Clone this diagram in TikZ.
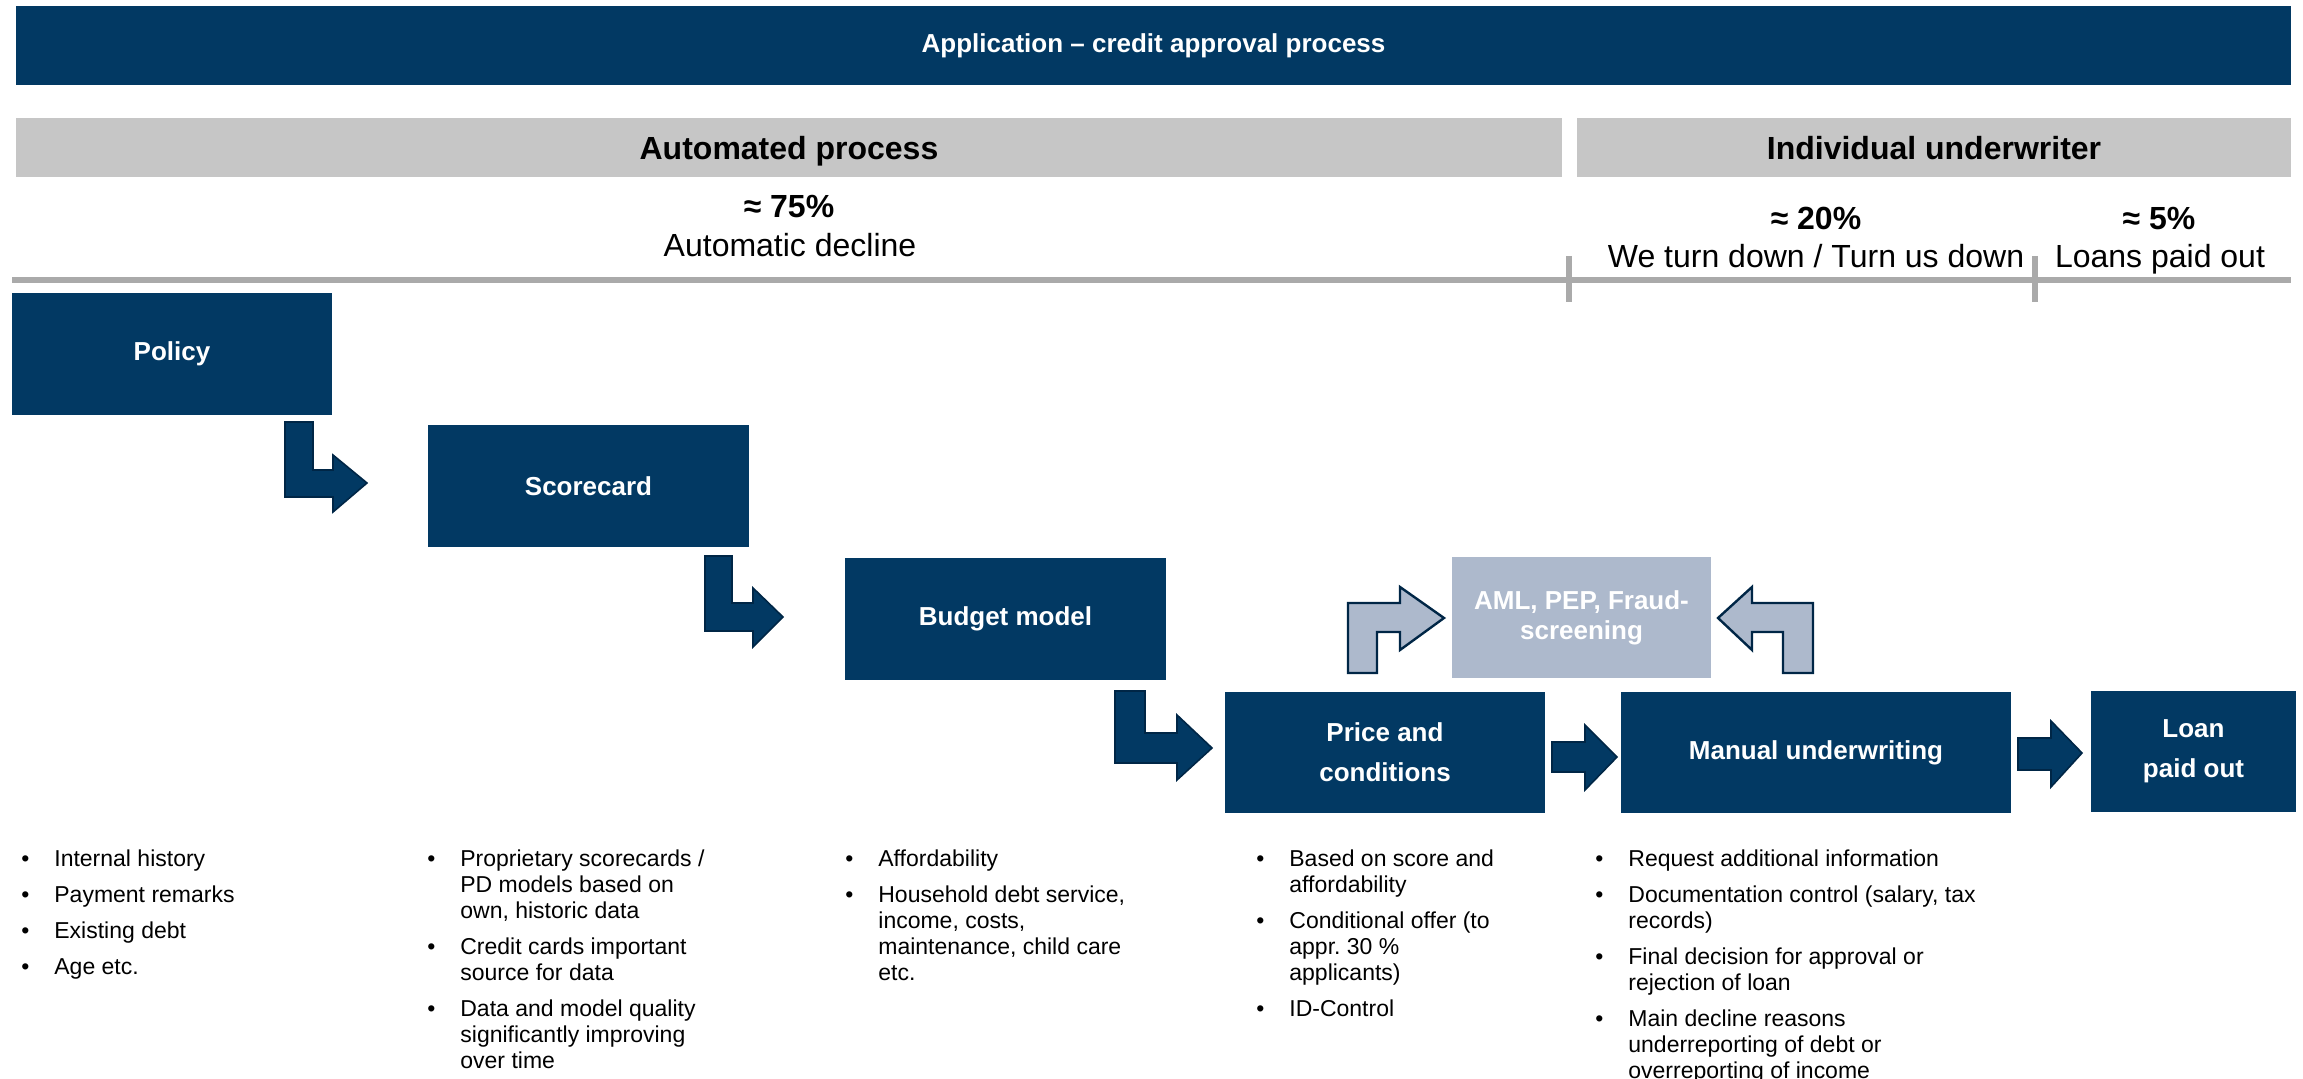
\documentclass[tikz,border=0pt]{standalone}
\usepackage{fontspec}
\setmainfont{Liberation Sans}
\frenchspacing
\definecolor{navy}{RGB}{2,57,99}
\definecolor{navyedge}{RGB}{0,38,70}
\definecolor{lightblue}{RGB}{173,185,204}
\definecolor{bargray}{RGB}{198,198,198}
\definecolor{linegray}{RGB}{170,170,170}
\newcommand{\bl}{\makebox[16.5pt][l]{\textbullet}}
\begin{document}
\begin{tikzpicture}[x=0.5pt,y=-0.5pt,
  titlebar/.style={fill=navy, inner sep=0pt, text=white, minimum width=1137.5pt, minimum height=39.5pt, font=\fontsize{13pt}{16pt}\selectfont\bfseries},
  hdr/.style={fill=bargray, inner sep=0pt, text=black, text depth=0pt, minimum height=29.5pt, font=\fontsize{16pt}{19pt}\selectfont\bfseries},
  box/.style={fill=navy, inner sep=0pt, text=white, align=center, minimum height=61pt, font=\fontsize{13pt}{20pt}\selectfont\bfseries},
  amlbox/.style={fill=lightblue, inner sep=0pt, text=white, align=center, minimum width=129.5pt, minimum height=60.5pt, font=\fontsize{13pt}{15pt}\selectfont\bfseries},
  pct/.style={inner sep=0pt, font=\fontsize{16pt}{19pt}\selectfont\bfseries, anchor=base},
  sub/.style={inner sep=0pt, font=\fontsize{16pt}{19pt}\selectfont, anchor=base},
  bul/.style={inner sep=0pt, anchor=base west, font=\fontsize{11.5pt}{13pt}\selectfont},
  rule/.style={draw=linegray, line width=3pt},
  darkarrow/.style={fill=navy, draw=navyedge, line width=0.8pt, line join=miter},
  lightarrow/.style={fill=lightblue, draw=navyedge, line width=1.2pt, line join=miter}
]
\useasboundingbox (0,0) rectangle (2303,1079);

% title and headers
\node[titlebar] (title) at (1153.5,45.5) {Application – credit approval process};
\node[hdr, minimum width=773pt] (auto) at (789,147.5) {Automated process};
\node[hdr, minimum width=357pt] (indiv) at (1934,147.5) {Individual underwriter};

% percentages
\node[pct] (p75) at (789,218) {≈ 75\%};
\node[sub] (t75) at (790,257) {Automatic decline};
\node[pct] (p20) at (1816,230) {≈ 20\%};
\node[sub] (t20) at (1816,268) {We turn down / Turn us down};
\node[pct] (p5) at (2159,230) {≈ 5\%};
\node[sub] (t5) at (2160,268) {Loans paid out};

% rule with ticks
\draw[rule] (12,280) -- (2291,280);
\draw[rule] (1569,256) -- (1569,302);
\draw[rule] (2035,256) -- (2035,302);

% boxes
\node[box, minimum width=160pt] (policy) at (172,354) {Policy};
\node[box, minimum width=160.5pt] (score) at (588.5,486) {Scorecard};
\node[box, minimum width=160.5pt] (budget) at (1005.5,619) {Budget model};
\node[box, minimum width=160pt, minimum height=60.5pt] (price) at (1385,752.5) {Price and\\conditions};
\node[box, minimum width=195pt, minimum height=60.5pt] (manual) at (1816,752.5) {Manual underwriting};
\node[box, minimum width=102.5pt, minimum height=60.5pt] (loan) at (2193.5,751.5) {Loan\\paid out};
\node[amlbox] (aml) at (1581.5,617.5) {AML, PEP, Fraud-\\screening};

% bent arrows
\draw[darkarrow] (285,422) -- (313,422) -- (313,470) -- (333,470) -- (333,455) -- (367,483) -- (333,512) -- (333,497) -- (285,497) -- cycle;
\draw[darkarrow] (705,556) -- (732,556) -- (732,603) -- (753,603) -- (753,588) -- (783,617) -- (753,647) -- (753,631) -- (705,631) -- cycle;
\draw[darkarrow] (1115,691) -- (1145,691) -- (1145,733) -- (1177,733) -- (1177,715) -- (1212,748) -- (1177,780) -- (1177,763) -- (1115,763) -- cycle;

% straight arrows
\draw[darkarrow] (1552,742) -- (1585,742) -- (1585,725) -- (1617,757) -- (1585,790) -- (1585,772) -- (1552,772) -- cycle;
\draw[darkarrow] (2018,738) -- (2051,738) -- (2051,721) -- (2082,753) -- (2051,787) -- (2051,770) -- (2018,770) -- cycle;

% light arrows
\draw[lightarrow] (1348,673) -- (1348,603) -- (1400,603) -- (1400,587) -- (1444,618) -- (1400,650) -- (1400,632) -- (1377,632) -- (1377,673) -- cycle;
\draw[lightarrow] (1813,673) -- (1813,603) -- (1752,603) -- (1752,587) -- (1718,618) -- (1752,650) -- (1752,632) -- (1783,632) -- (1783,673) -- cycle;

% bullet lists
\node[bul] (l1) at (21,866) {\begin{tabular}[t]{@{}l@{}l@{}}
\bl & Internal history\\[5pt]
\bl & Payment remarks\\[5pt]
\bl & Existing debt\\[5pt]
\bl & Age etc.
\end{tabular}};
\node[bul] (l2) at (427,866) {\begin{tabular}[t]{@{}l@{}l@{}}
\bl & Proprietary scorecards /\\
 & PD models based on\\
 & own, historic data\\[5pt]
\bl & Credit cards important\\
 & source for data\\[5pt]
\bl & Data and model quality\\
 & significantly improving\\
 & over time
\end{tabular}};
\node[bul] (l3) at (845,866) {\begin{tabular}[t]{@{}l@{}l@{}}
\bl & Affordability\\[5pt]
\bl & Household debt service,\\
 & income, costs,\\
 & maintenance, child care\\
 & etc.
\end{tabular}};
\node[bul] (l4) at (1256,866) {\begin{tabular}[t]{@{}l@{}l@{}}
\bl & Based on score and\\
 & affordability\\[5pt]
\bl & Conditional offer (to\\
 & appr. 30 \%\\
 & applicants)\\[5pt]
\bl & ID-Control
\end{tabular}};
\node[bul] (l5) at (1595,866) {\begin{tabular}[t]{@{}l@{}l@{}}
\bl & Request additional information\\[5pt]
\bl & Documentation control (salary, tax\\
 & records)\\[5pt]
\bl & Final decision for approval or\\
 & rejection of loan\\[5pt]
\bl & Main decline reasons\\
 & underreporting of debt or\\
 & overreporting of income
\end{tabular}};
\end{tikzpicture}
\end{document}
